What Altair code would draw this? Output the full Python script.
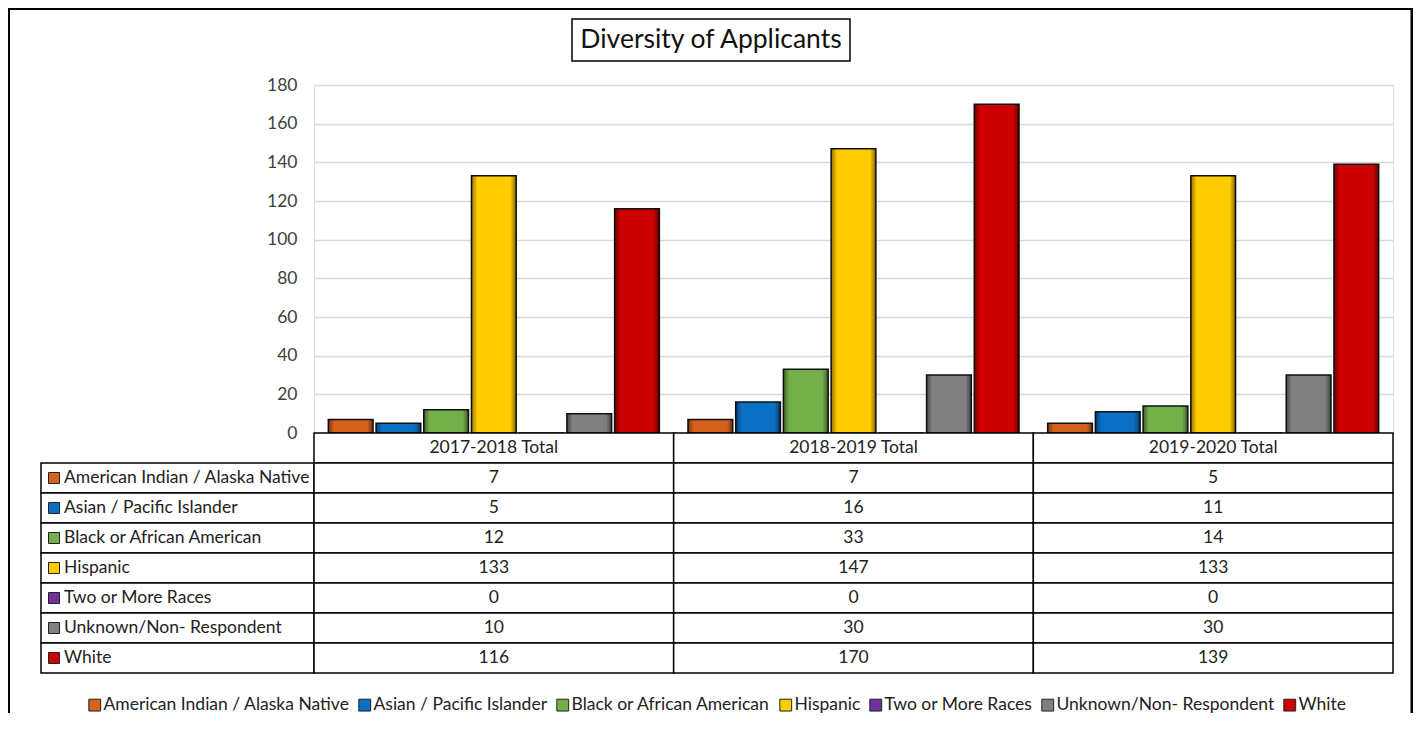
import altair as alt
import pandas as pd

# ---- data ----
years = ["2017-2018 Total", "2018-2019 Total", "2019-2020 Total"]
races = [
    "American Indian / Alaska Native",
    "Asian / Pacific Islander",
    "Black or African American",
    "Hispanic",
    "Two or More Races",
    "Unknown/Non- Respondent",
    "White",
]
values_2017 = [7, 5, 12, 133, 0, 10, 116]
values_2018 = [7, 16, 33, 147, 0, 30, 170]
values_2019 = [5, 11, 14, 133, 0, 30, 139]
y_ticks = [0, 20, 40, 60, 80, 100, 120, 140, 160, 180]
chart_title = "Diversity of Applicants"

palette = ["#d4621c", "#0b6fc4", "#74b04a", "#ffcc00", "#7030a0", "#808080", "#cc0000"]

FONT = "Lato"
FS = 17.5
HDR = "hdr"

rows = []
for yr, vals in zip(years, [values_2017, values_2018, values_2019]):
    for r, v in zip(races, vals):
        rows.append({"year": yr, "race": r, "value": v, "row": r})
df = pd.DataFrame(rows)
hdr_df = pd.DataFrame({"year": years, "row": [HDR] * len(years)})
lab_df = pd.DataFrame({"race": races, "row": races})
title_df = pd.DataFrame({"label": [chart_title]})

xs = alt.Scale(type="band", domain=years, paddingInner=0, paddingOuter=0)
ys = alt.Scale(type="band", domain=[HDR] + races, range=[348, 588], paddingInner=0, paddingOuter=0)
cs = alt.Scale(domain=races, range=palette)
xo = alt.XOffset("race:N", scale=alt.Scale(domain=races, paddingInner=0.0625, paddingOuter=0.3))

X = alt.X("year:N", scale=xs, axis=None)
Y = alt.Y("row:N", scale=ys, axis=None)
y_axis = alt.Axis(
    values=y_ticks, title=None, domain=False, ticks=False, labelPadding=17,
    gridColor="#d9d9d9", gridWidth=1.5, labelFont=FONT, labelFontSize=FS,
    labelColor="#404040",
)
YV = alt.Y("value:Q", scale=alt.Scale(domain=[0, 180], nice=False), axis=y_axis)

bars = alt.Chart(df).mark_bar(stroke="#111111", strokeWidth=1.5).encode(
    x=X,
    xOffset=xo,
    y=YV,
    color=alt.Color(
        "race:N", scale=cs,
        legend=alt.Legend(
            title=None, orient="none", legendX=-228, legendY=611, direction="horizontal",
            columns=7, symbolType="square", symbolSize=140, symbolStrokeColor="#222222",
            symbolStrokeWidth=1, labelFont=FONT, labelFontSize=FS, labelColor="#222222",
            labelOffset=0, columnPadding=6, labelLimit=400, padding=0,
        ),
    ),
)

# bevel shading overlay (darker side edges), sharing the bars' y scale
shade = alt.Chart(df).mark_bar(
    fill=alt.Gradient(
        gradient="linear", x1=0, x2=1, y1=0, y2=0,
        stops=[
            alt.GradientStop(color="rgba(0,0,0,0.45)", offset=0),
            alt.GradientStop(color="rgba(0,0,0,0)", offset=0.13),
            alt.GradientStop(color="rgba(0,0,0,0)", offset=0.87),
            alt.GradientStop(color="rgba(0,0,0,0.5)", offset=1),
        ],
    ),
    strokeWidth=0,
).encode(x=X, xOffset=xo, y=YV)

bar_layer = alt.layer(bars, shade)

cell_style = dict(fill="white", stroke="black", strokeWidth=1.5)
text_style = dict(font=FONT, fontSize=FS, color="#222222")

lab_cells = alt.Chart(lab_df).mark_rect(**cell_style).encode(
    x=alt.value(-273), x2=alt.value(0), y=Y
)
hdr_cells = alt.Chart(hdr_df).mark_rect(**cell_style).encode(x=X, y=Y)
val_cells = alt.Chart(df).mark_rect(**cell_style).encode(x=X, y=Y)
hdr_text = alt.Chart(hdr_df).mark_text(**text_style).encode(x=X, y=Y, text="year:N")
val_text = alt.Chart(df).mark_text(**text_style).encode(x=X, y=Y, text="value:Q")
lab_text = alt.Chart(lab_df).mark_text(align="left", **text_style).encode(
    x=alt.value(-250), y=Y, text="race:N"
)
lab_sw = alt.Chart(lab_df).mark_square(size=121, stroke="#222222", strokeWidth=1, opacity=1).encode(
    x=alt.value(-260), y=Y, color=alt.Color("race:N", scale=cs)
)

table = alt.layer(lab_cells, hdr_cells, val_cells, hdr_text, val_text, lab_text, lab_sw)

title_box = alt.Chart(title_df).mark_rect(fillOpacity=0, stroke="black", strokeWidth=1.5).encode(
    x=alt.value(258), x2=alt.value(536), y=alt.value(-66), y2=alt.value(-24)
)
title_text = alt.Chart(title_df).mark_text(font=FONT, fontSize=26.5, color="#111111").encode(
    x=alt.value(397), y=alt.value(-45), text="label:N"
)
frame = alt.Chart(title_df).mark_rect(fillOpacity=0, stroke="black", strokeWidth=3).encode(
    x=alt.value(-305.5), x2=alt.value(1098), y=alt.value(-76.5), y2=alt.value(700)
)

chart = (
    alt.layer(bar_layer, table, title_box, title_text, frame)
    .resolve_scale(y="independent")
    .properties(
        width=1079,
        height=348,
        autosize=alt.AutoSizeParams(type="none"),
        padding={"left": 306, "top": 77, "right": 20, "bottom": 280},
    )
    .configure_view(stroke="transparent", strokeWidth=0)
    .configure_axis(domain=False, ticks=False)
    .configure_axisX(grid=False)
    .configure(font=FONT)
)

chart.save("out.html", embed_options={"renderer": "svg", "actions": False})
